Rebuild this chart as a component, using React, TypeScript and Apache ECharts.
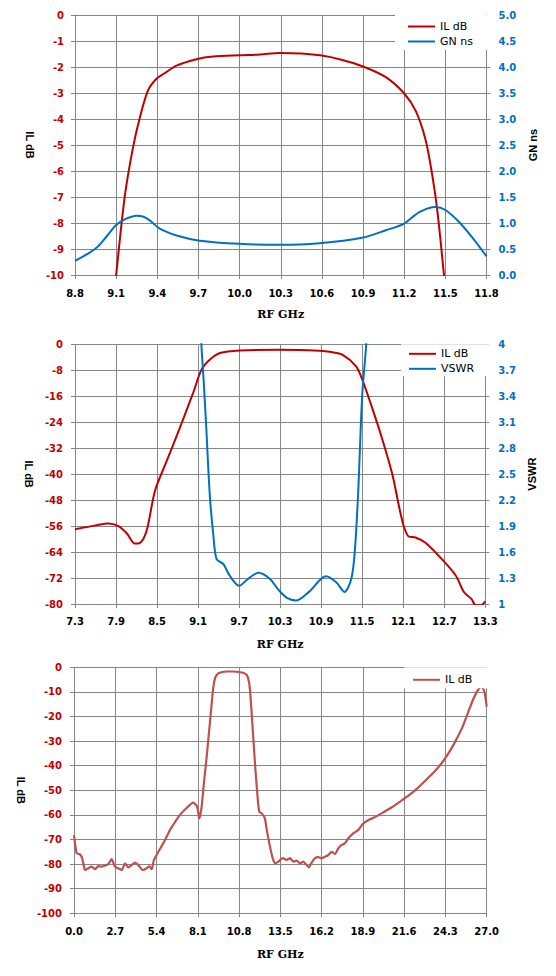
import React, { useEffect, useRef } from "react";
import * as echarts from "echarts";

// ---------- Chart 1 : IL dB / GN ns ----------
const chart1IlFreq = [9.05, 9.10, 9.163, 9.223, 9.272, 9.333, 9.394, 9.45, 9.54, 9.686, 9.807, 10.0, 10.15, 10.29, 10.45, 10.6, 10.75, 10.9, 11.066, 11.2, 11.285, 11.357, 11.406, 11.443, 11.49, 11.52];
const chart1IlDb = [-12.5, -10.0, -6.97, -5.09, -3.96, -2.89, -2.45, -2.25, -1.95, -1.70, -1.60, -1.55, -1.52, -1.46, -1.48, -1.56, -1.73, -1.98, -2.39, -3.02, -3.70, -4.83, -6.21, -7.59, -10.0, -11.6];
const chart1GnFreq = [8.8, 8.907, 8.968, 9.03, 9.10, 9.163, 9.248, 9.30, 9.345, 9.418, 9.54, 9.71, 10.0, 10.29, 10.58, 10.9, 11.066, 11.2, 11.31, 11.43, 11.50, 11.6, 11.70, 11.8];
const chart1GnNs = [0.27, 0.43, 0.55, 0.74, 0.96, 1.07, 1.14, 1.12, 1.05, 0.89, 0.76, 0.66, 0.60, 0.58, 0.61, 0.72, 0.86, 0.99, 1.21, 1.31, 1.25, 1.02, 0.71, 0.36];

// ---------- Chart 2 : IL dB / VSWR ----------
const chart2IlFreq = [7.3, 7.617, 7.787, 7.934, 8.056, 8.177, 8.25, 8.35, 8.47, 8.64, 8.83, 9.03, 9.15, 9.27, 9.42, 9.71, 10.3, 10.87, 11.05, 11.21, 11.41, 11.5, 11.65, 11.79, 11.94, 12.04, 12.11, 12.18, 12.28, 12.43, 12.67, 12.87, 12.99, 13.1, 13.16, 13.23, 13.3];
const chart2IlDb = [-57.0, -55.7, -55.2, -56.0, -58.2, -61.4, -61.2, -57.2, -45.1, -36, -25.9, -14.8, -7.8, -4.75, -2.7, -1.9, -1.7, -2.0, -2.4, -3.2, -6.8, -10.8, -19.9, -29, -40, -50.1, -56.2, -59.2, -59.5, -61.2, -66.3, -71.3, -76.4, -78.5, -80.4, -80.4, -79.2];
const chart2VswrFreq = [9.12, 9.148, 9.18, 9.22, 9.27, 9.32, 9.37, 9.47, 9.56, 9.70, 9.83, 9.98, 10.15, 10.28, 10.4, 10.53, 10.72, 10.97, 11.12, 11.24, 11.34, 11.39, 11.44, 11.50, 11.56, 11.6];
const chart2Vswr = [4.6, 4.0, 3.60, 3.03, 2.27, 1.82, 1.52, 1.46, 1.33, 1.21, 1.29, 1.36, 1.29, 1.16, 1.07, 1.04, 1.14, 1.32, 1.25, 1.14, 1.29, 1.59, 2.27, 3.41, 4.01, 4.6];

// ---------- Chart 3 : wide band IL dB ----------
const chart3Freq = [0, 0.17, 0.35, 0.50, 0.61, 0.72, 0.94, 1.16, 1.37, 1.59, 1.81, 2.03, 2.24, 2.46, 2.68, 2.9, 3.12, 3.34, 3.55, 3.77, 3.99, 4.21, 4.49, 4.75, 4.93, 5.08, 5.23, 5.52, 5.84, 6.17, 6.28, 6.93, 7.35, 7.80, 8.03, 8.12, 8.18, 8.26, 8.35, 8.5, 8.68, 8.9, 9.12, 9.25, 9.44, 9.7, 10.0, 10.4, 10.8, 11.1, 11.3, 11.45, 11.55, 11.7, 11.84, 12.0, 12.12, 12.3, 12.49, 12.61, 12.82, 13.0, 13.15, 13.37, 13.65, 13.92, 14.13, 14.35, 14.57, 14.79, 15.0, 15.22, 15.37, 15.55, 15.77, 15.98, 16.2, 16.42, 16.64, 16.86, 17.08, 17.29, 17.51, 17.73, 17.95, 18.27, 18.6, 18.89, 19.3, 19.76, 20.3, 20.85, 21.4, 21.94, 22.5, 23.03, 23.6, 24.12, 24.6, 24.99, 25.4, 25.76, 26.05, 26.3, 26.5, 26.67, 26.85, 27.0];
const chart3IlDb = [-68.2, -75.6, -75.9, -77, -79.7, -82.4, -81.7, -81, -82.1, -80.8, -81, -80.6, -80, -78, -81, -81.7, -82.4, -79.7, -81.3, -80.4, -79.4, -80.4, -82.4, -81.7, -80.8, -82.1, -78.3, -75, -71.5, -67.5, -66.1, -60, -57.3, -55, -56.4, -58.5, -61.4, -60, -56.7, -47, -36.3, -22, -7.9, -4, -2.5, -1.9, -1.7, -1.7, -1.9, -2.3, -3.1, -6, -12, -26, -39, -52, -58.7, -59.5, -61.5, -66, -72.9, -77.6, -79.7, -79, -77.6, -78.3, -77.6, -79, -78.6, -79.7, -79, -80.4, -81.3, -79.4, -77.6, -77.2, -77.6, -77, -76.3, -75, -75.9, -73.6, -72.2, -71.5, -69.5, -67.5, -66.1, -63.7, -62, -60.7, -58.7, -56.7, -54.3, -51.9, -49, -45.8, -42.3, -38.4, -34, -29.6, -24.5, -18.7, -14, -10.6, -8.6, -7.9, -9.9, -16];

const GRID = "#868686";
const RED = "#C00000";
const BLUE = "#0070C0";
const RED3 = "#C0504D";

const zip = (xs: number[], ys: number[]) => xs.map((x, i) => [x, ys[i]]);

const tickFont = { fontFamily: "DejaVu Sans", fontWeight: "bold" as const, fontSize: 10 };
const nameFont = { fontFamily: "Liberation Sans", fontWeight: "bold" as const, fontSize: 11, color: "#000" };
const xNameFont = { fontFamily: "DejaVu Serif", fontWeight: "bold" as const, fontSize: 11, color: "#000" };

function xAxisOf(min: number, max: number, interval: number, margin: number, nameGap: number) {
  return {
    type: "value",
    min,
    max,
    interval,
    axisLine: { show: true, onZero: false, lineStyle: { color: GRID, width: 1 } },
    axisTick: { show: true, length: 4, lineStyle: { color: GRID } },
    splitLine: { show: true, lineStyle: { color: GRID, width: 1 } },
    axisLabel: { ...tickFont, color: "#000", margin, formatter: (v: number) => v.toFixed(1) },
    name: "RF GHz",
    nameLocation: "middle",
    nameGap,
    nameTextStyle: xNameFont,
  };
}

function yAxisOf(opts: any) {
  return {
    type: "value",
    min: opts.min,
    max: opts.max,
    interval: opts.interval,
    position: opts.position,
    axisLine: { show: true, onZero: false, lineStyle: { color: GRID, width: 1 } },
    axisTick: { show: true, length: 4, lineStyle: { color: GRID } },
    splitLine: { show: opts.split, lineStyle: { color: GRID, width: 1 } },
    axisLabel: { ...tickFont, color: opts.color, margin: opts.margin, formatter: opts.formatter },
    name: opts.name,
    nameLocation: "middle",
    nameGap: opts.nameGap,
    nameRotate: opts.nameRotate,
    nameTextStyle: nameFont,
  };
}

function legendOf(left: number, top: number, padding: number[], names: string[]) {
  return {
    orient: "vertical",
    left,
    top,
    icon: "rect",
    itemWidth: 27,
    itemHeight: 2,
    itemGap: 4,
    itemTextGap: 2,
    padding,
    backgroundColor: "#fff",
    textStyle: { fontFamily: "DejaVu Sans", fontSize: 11, color: "#000" },
    data: names,
  };
}

function lineSeries(name: string, data: number[][], color: string, yAxisIndex = 0, smooth: number | boolean = 0.3, width = 2) {
  return {
    type: "line",
    name,
    data,
    yAxisIndex,
    showSymbol: false,
    symbol: "none",
    smooth,
    clip: true,
    lineStyle: { color, width },
    itemStyle: { color },
  };
}

const option1 = {
  animation: false,
  grid: { left: 75, top: 15, width: 411.5, height: 266 },
  legend: legendOf(395, 15, [6, 19, 3, 13], ["IL dB", "GN ns"]),
  xAxis: xAxisOf(8.8, 11.8, 0.3, 13, 34),
  yAxis: [
    yAxisOf({ min: -10, max: 0, interval: 1, position: "left", split: true, color: RED, margin: 11, name: "IL dB", nameGap: 38, nameRotate: -90 }),
    yAxisOf({ min: 0, max: 5, interval: 0.5, position: "right", split: false, color: BLUE, margin: 12, name: "GN ns", nameGap: 38, nameRotate: 90, formatter: (v: number) => v.toFixed(1) }),
  ],
  series: [
    lineSeries("IL dB", zip(chart1IlFreq, chart1IlDb), RED, 0),
    lineSeries("GN ns", zip(chart1GnFreq, chart1GnNs), BLUE, 1),
  ],
};

const option2 = {
  animation: false,
  grid: { left: 75, top: 19.3, width: 410.3, height: 264.4 },
  legend: legendOf(401, 19.3, [4, 16, 2, 8], ["IL dB", "VSWR"]),
  xAxis: xAxisOf(7.3, 13.3, 0.6, 12, 35),
  yAxis: [
    yAxisOf({ min: -80, max: 0, interval: 8, position: "left", split: true, color: RED, margin: 12, name: "IL dB", nameGap: 38, nameRotate: -90 }),
    yAxisOf({ min: 1, max: 4, interval: 0.3, position: "right", split: false, color: BLUE, margin: 13, name: "VSWR", nameGap: 36, nameRotate: 90, formatter: (v: number) => String(+v.toFixed(1)) }),
  ],
  series: [
    lineSeries("IL dB", zip(chart2IlFreq, chart2IlDb), RED, 0),
    lineSeries("VSWR", zip(chart2VswrFreq, chart2Vswr), BLUE, 1),
  ],
};

const option3 = {
  animation: false,
  grid: { left: 74, top: 12.3, width: 412.7, height: 246 },
  legend: legendOf(404, 12.3, [7, 17, 3, 9], ["IL dB"]),
  xAxis: xAxisOf(0, 27, 2.7, 13, 36),
  yAxis: [
    yAxisOf({ min: -100, max: 0, interval: 10, position: "left", split: true, color: RED, margin: 12, name: "IL dB", nameGap: 39, nameRotate: -90 }),
  ],
  series: [lineSeries("IL dB", zip(chart3Freq, chart3IlDb), RED3, 0, 0.2, 2.2)],
};

export default function App() {
  const r1 = useRef<HTMLDivElement>(null);
  const r2 = useRef<HTMLDivElement>(null);
  const r3 = useRef<HTMLDivElement>(null);

  useEffect(() => {
    const c1 = echarts.init(r1.current as HTMLDivElement, null, { renderer: "svg" });
    const c2 = echarts.init(r2.current as HTMLDivElement, null, { renderer: "svg" });
    const c3 = echarts.init(r3.current as HTMLDivElement, null, { renderer: "svg" });
    c1.setOption(option1 as any);
    c2.setOption(option2 as any);
    c3.setOption(option3 as any);
    return () => {
      c1.dispose();
      c2.dispose();
      c3.dispose();
    };
  }, []);

  return (
    <div style={{ position: "absolute", left: 0, top: 0, width: 556, height: 976, background: "#fff" }}>
      <div ref={r1} style={{ position: "absolute", left: 0, top: 0, width: 556, height: 325 }} />
      <div ref={r2} style={{ position: "absolute", left: 0, top: 325, width: 556, height: 330 }} />
      <div ref={r3} style={{ position: "absolute", left: 0, top: 655, width: 556, height: 321 }} />
    </div>
  );
}
